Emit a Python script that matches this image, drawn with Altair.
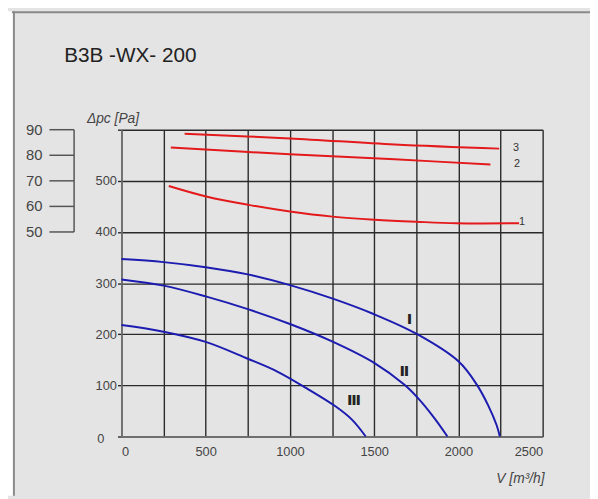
import altair as alt
import pandas as pd

# ---- data ----
title_text = "B3B -WX- 200"

# red curves (1, 2, 3)
r1_v = [281, 509, 755, 1000, 1253, 1504, 1750, 1990, 2360]
r1_p = [490, 469, 453, 440, 430, 424, 420, 417, 417]
r2_v = [293, 1000, 1622, 2190]
r2_p = [565, 552, 542, 532]
r3_v = [375, 1000, 1622, 2242]
r3_p = [592, 583, 571, 563]

# blue curves (I, II, III)
b1_v = [0, 250, 500, 750, 1000, 1250, 1500, 1750, 2000, 2110, 2178, 2227, 2246]
b1_p = [347, 341, 331, 317, 296, 270, 239, 201, 147, 101, 60, 22, 0]
b2_v = [0, 250, 500, 750, 1000, 1250, 1500, 1680, 1760, 1855, 1935]
b2_p = [307, 295, 274, 249, 220, 186, 144, 101, 75, 37, 0]
b3_v = [0, 250, 500, 750, 925, 1100, 1270, 1368, 1450]
b3_p = [218, 205, 185, 152, 127, 94, 59, 33, 0]

# curve labels
red_lbl = ["1", "2", "3"]
red_lbl_v = [2377, 2348, 2342]
red_lbl_p = [419, 532, 565]
blue_lbl = ["Ⅰ", "Ⅱ", "Ⅲ"]
blue_lbl_v = [1710, 1680, 1380]
blue_lbl_p = [230, 128, 72]

# secondary scale (left bracket)
sec_vals = [50, 60, 70, 80, 90]

x_ticks = list(range(0, 2501, 250))
y_ticks = list(range(0, 601, 50))

rows = []
for name, fam, vs, ps in [("1", "red", r1_v, r1_p), ("2", "red", r2_v, r2_p),
                          ("3", "red", r3_v, r3_p), ("I", "blue", b1_v, b1_p),
                          ("II", "blue", b2_v, b2_p), ("III", "blue", b3_v, b3_p)]:
    for v, p in zip(vs, ps):
        rows.append({"V": v, "P": p, "curve": name, "fam": fam})
curves = pd.DataFrame(rows)

xs = alt.Scale(domain=[0, 2500], nice=False, zero=False)
ys = alt.Scale(domain=[0, 600], nice=False, zero=False)

lines = alt.Chart(curves).mark_line(interpolate="catmull-rom", strokeWidth=2).encode(
    x=alt.X("V:Q", scale=xs, axis=alt.Axis(
        values=x_ticks, title=None, grid=True, ticks=False, format="d",
        labelExpr="datum.value % 500 == 0 ? datum.label : ''",
        labelFontSize=13, labelColor="#444", labelPadding=9,
        gridColor="#2a2a2a", gridWidth=1.4, domainColor="#777", domainWidth=1.5)),
    y=alt.Y("P:Q", scale=ys, axis=alt.Axis(
        values=y_ticks, title=None, grid=True, ticks=True, tickSize=4,
        tickColor="#2a2a2a", tickWidth=1.4, format="d",
        labelExpr="datum.value % 100 == 0 && datum.value > 0 && datum.value < 600 ? datum.label : ''",
        labelFontSize=13, labelColor="#444", labelPadding=1,
        gridColor="#2a2a2a", gridWidth=1.4, domainColor="#777", domainWidth=1.5)),
    color=alt.Color("fam:N", scale=alt.Scale(domain=["red", "blue"],
                                             range=["#e3191c", "#1c1cb0"]), legend=None),
    detail="curve:N",
)

red_df = pd.DataFrame({"V": red_lbl_v, "P": red_lbl_p, "t": red_lbl})
red_text = alt.Chart(red_df).mark_text(fontSize=11, color="#333", align="center",
                                       baseline="middle").encode(
    x=alt.X("V:Q", scale=xs), y=alt.Y("P:Q", scale=ys), text="t:N")

blue_df = pd.DataFrame({"V": blue_lbl_v, "P": blue_lbl_p, "t": blue_lbl})
blue_text = alt.Chart(blue_df).mark_text(fontSize=15, color="#222", font="DejaVu Sans",
                                         fontWeight="bold", align="center",
                                         baseline="middle").encode(
    x=alt.X("V:Q", scale=xs), y=alt.Y("P:Q", scale=ys), text="t:N")

sec_df = pd.DataFrame({"v": sec_vals})
sec_base = alt.Chart(sec_df).transform_calculate(pa="(datum.v - 50) * 5 + 400")
sec_ticks = sec_base.mark_rule(color="#555", strokeWidth=1.5).encode(
    x=alt.value(-73), x2=alt.value(-48), y=alt.Y("pa:Q", scale=ys))
sec_labels = sec_base.mark_text(fontSize=15, color="#444", align="right",
                                baseline="middle").encode(
    x=alt.value(-80), y=alt.Y("pa:Q", scale=ys), text="v:N")
one = pd.DataFrame({"a": [0]})
sec_vline = alt.Chart(one).mark_rule(color="#555", strokeWidth=1.5).encode(
    x=alt.value(-48), y=alt.datum(400), y2=alt.datum(600))

# y-axis zero label (set apart in the reference)
zero_lbl = alt.Chart(one).mark_text(text="0", fontSize=13, color="#444",
                                    align="center", baseline="middle").encode(
    x=alt.value(-21), y=alt.value(314))

# frame and texts
left_strip = alt.Chart(one).mark_rect(color="white").encode(
    x=alt.value(-115), x2=alt.value(-110), y=alt.value(-120), y2=alt.value(371))
frame_top = alt.Chart(one).mark_rule(color="#8a8a8a", strokeWidth=2).encode(
    x=alt.value(-111), x2=alt.value(475), y=alt.value(-119))
frame_left = alt.Chart(one).mark_rule(color="#8a8a8a", strokeWidth=2).encode(
    x=alt.value(-109), y=alt.value(-120), y2=alt.value(371))

title = alt.Chart(one).mark_text(text=title_text, fontSize=21, color="#222",
                                 align="left", baseline="middle").encode(
    x=alt.value(-58), y=alt.value(-75))
ytitle = alt.Chart(one).mark_text(text="Δpc [Pa]", fontSize=14, fontStyle="italic",
                                  color="#444", align="left", baseline="middle").encode(
    x=alt.value(-35), y=alt.value(-11))
xtitle = alt.Chart(one).mark_text(text="V [m³/h]", fontSize=14, fontStyle="italic",
                                  color="#444", align="right", baseline="middle").encode(
    x=alt.value(429), y=alt.value(354))

chart = alt.layer(
    lines, red_text, blue_text, sec_ticks, sec_labels, sec_vline, zero_lbl,
    left_strip, frame_top, frame_left, title, ytitle, xtitle
).properties(
    width=427, height=311,
    autosize=alt.AutoSizeParams(type="none"),
    padding={"left": 115, "top": 120, "right": 48, "bottom": 60},
).configure(
    background="#e4e4e4", font="Liberation Sans"
).configure_view(strokeWidth=0)

chart.save("out.html", embed_options={"renderer": "svg", "actions": False})
